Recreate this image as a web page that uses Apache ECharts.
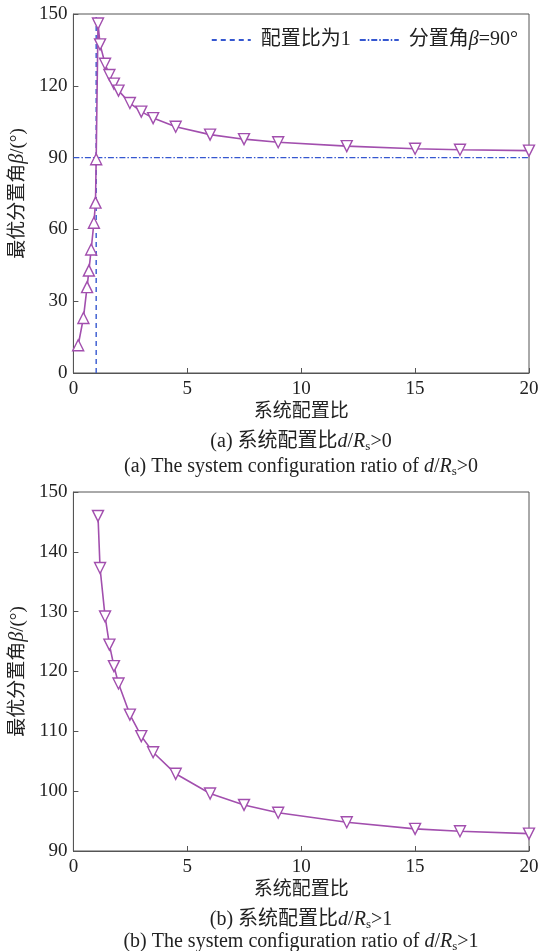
<!DOCTYPE html>
<html><head><meta charset="utf-8">
<script src="https://cdn.jsdelivr.net/npm/echarts@6/dist/echarts.min.js"></script>
<style>html,body{margin:0;padding:0;background:#fff}#c{width:542px;height:951px}</style>
</head><body><div id="c"></div>
<script>
// Data
var leftX = [0.21, 0.44, 0.60, 0.68, 0.78, 0.90, 0.97, 1.0];
var leftY = [11.6, 23.0, 35.9, 42.8, 51.6, 62.8, 71.2, 89.3];
var rightX = [1.08, 1.17, 1.39, 1.58, 1.78, 1.98, 2.48, 2.98, 3.5, 4.49, 6.0, 7.49, 8.99, 12.0, 15.0, 16.97, 20.0];
var rightY = [146.0, 137.3, 129.2, 124.5, 120.9, 118.0, 112.8, 109.2, 106.5, 102.9, 99.6, 97.7, 96.4, 94.8, 93.7, 93.3, 92.9];
var ratioOne = 1;        // vertical reference: configuration ratio = 1
var betaNinety = 90;     // horizontal reference: beta = 90°
var xTicksMax = 20;
var topYMin = 0, topYMax = 150, topYStep = 30;
var botYMin = 90, botYMax = 150, botYStep = 10;

var PURPLE = '#a24fae', BLUE = '#3557d0', AX = '#555';
var FONT = '"Liberation Serif", "Noto Sans CJK SC", serif';
var FS = 19;

function pts(xs, ys, rot) {
  return xs.map(function (x, i) { return { value: [x, ys[i]], symbolRotate: rot }; });
}
var topCurve = pts(leftX, leftY, 0).concat(pts(rightX, rightY, 180));
var botCurve = pts(rightX, rightY, 180);

function xAxis(gi) {
  return {
    type: 'value', gridIndex: gi, min: 0, max: xTicksMax, interval: 5,
    axisLine: { lineStyle: { color: AX, width: 1 } },
    axisTick: { inside: true, length: 5, lineStyle: { color: AX } },
    axisLabel: { color: '#222', fontSize: FS, fontFamily: FONT, margin: 7 },
    splitLine: { show: false },
    name: '系统配置比', nameLocation: 'middle', nameGap: 30,
    nameTextStyle: { color: '#222', fontSize: FS, fontFamily: FONT }
  };
}
function yAxis(gi, mn, mx, st) {
  return {
    type: 'value', gridIndex: gi, min: mn, max: mx, interval: st,
    axisLine: { show: true, lineStyle: { color: AX, width: 1 } },
    axisTick: { inside: true, length: 5, lineStyle: { color: AX } },
    axisLabel: { color: '#222', fontSize: FS, fontFamily: FONT, margin: 6 },
    splitLine: { show: false },
    name: '{c|最优分置角}{i|β}{c|/(°)}', nameLocation: 'middle', nameGap: 37, nameRotate: 90,
    nameTextStyle: {
      color: '#222', fontSize: FS, fontFamily: FONT,
      rich: {
        c: { fontSize: FS, fontFamily: FONT, color: '#222' },
        i: { fontSize: FS + 1, fontFamily: FONT, fontStyle: 'italic', color: '#222' }
      }
    }
  };
}
function curve(name, xi, data) {
  return {
    name: name, type: 'line', xAxisIndex: xi, yAxisIndex: xi, data: data,
    symbol: 'triangle', symbolSize: 11, z: 5,
    lineStyle: { color: PURPLE, width: 1.6 },
    itemStyle: { color: '#fff', borderColor: PURPLE, borderWidth: 1.4 },
    emphasis: { disabled: true }, animation: false
  };
}
var capRich = {
  t: { fontSize: FS + 1, fontFamily: FONT, fill: '#222' },
  i: { fontSize: FS + 1, fontFamily: FONT, fontStyle: 'italic', fill: '#222' },
  s: { fontSize: 13, fontFamily: FONT, fill: '#222', padding: [10, 0, 0, 0] }
};
function cap(y, txt) {
  return { type: 'text', x: 301, y: y, style: { text: txt, rich: capRich, fill: '#222', align: 'center', verticalAlign: 'middle' } };
}

var chart = echarts.init(document.getElementById('c'), null, { renderer: 'canvas' });
chart.setOption({
  animation: false,
  backgroundColor: '#fff',
  grid: [
    { left: 73, right: 13, top: 14, height: 359, show: true, borderColor: AX, borderWidth: 1, backgroundColor: 'transparent' },
    { left: 73, right: 13, top: 492, height: 359, show: true, borderColor: AX, borderWidth: 1, backgroundColor: 'transparent' }
  ],
  xAxis: [xAxis(0), xAxis(1)],
  yAxis: [yAxis(0, topYMin, topYMax, topYStep), yAxis(1, botYMin, botYMax, botYStep)],
  legend: {
    right: 19, top: 25, itemWidth: 39, itemHeight: 10, itemGap: 8,
    itemStyle: { opacity: 0 },
    data: ['配置比为1', '分置角β=90°'],
    formatter: function (n) {
      if (n === '分置角β=90°') return '{c|分置角}{i|β}{c|=90°}';
      return '{c|配置比为1}';
    },
    textStyle: {
      color: '#222', fontSize: FS, fontFamily: FONT, padding: [0, 0, 0, 5],
      rich: {
        c: { fontSize: FS + 1, fontFamily: FONT, color: '#222' },
        i: { fontSize: FS + 1, fontFamily: FONT, fontStyle: 'italic', color: '#222' }
      }
    }
  },
  series: [
    {
      name: '配置比为1', type: 'line', xAxisIndex: 0, yAxisIndex: 0, symbol: 'none', z: 2,
      data: [[ratioOne, topYMin], [ratioOne, topYMax]],
      itemStyle: { color: BLUE },
      lineStyle: { color: BLUE, width: 1.4, type: [5, 4] }, emphasis: { disabled: true }
    },
    {
      name: '分置角β=90°', type: 'line', xAxisIndex: 0, yAxisIndex: 0, symbol: 'none', z: 2,
      data: [[0, betaNinety], [xTicksMax, betaNinety]],
      itemStyle: { color: BLUE },
      lineStyle: { color: BLUE, width: 1.4, type: [6, 2, 1.5, 2] }, emphasis: { disabled: true }
    },
    curve('top', 0, topCurve),
    curve('bottom', 1, botCurve)
  ],
  graphic: [
    cap(442, '{t|(a) 系统配置比}{i|d}{t|/}{i|R}{s|s}{t|>0}'),
    cap(467, '{t|(a) The system configuration ratio of }{i|d}{t|/}{i|R}{s|s}{t|>0}'),
    cap(920, '{t|(b) 系统配置比}{i|d}{t|/}{i|R}{s|s}{t|>1}'),
    cap(942, '{t|(b) The system configuration ratio of }{i|d}{t|/}{i|R}{s|s}{t|>1}')
  ]
});
</script></body></html>
